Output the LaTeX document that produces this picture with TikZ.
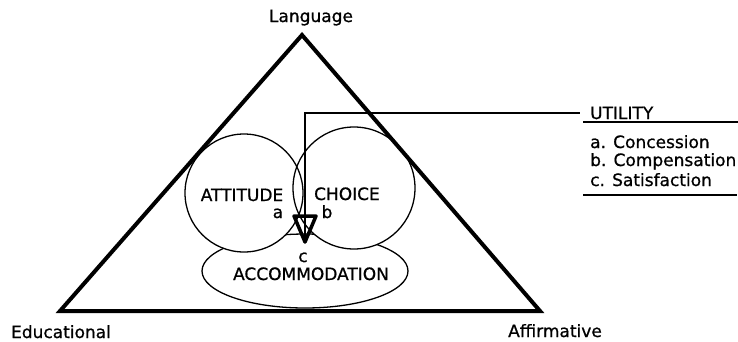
\documentclass[tikz,border=0pt]{standalone}
\usepackage{fontspec}
\setmainfont{DejaVu Sans}
\newfontfamily\lblfont[FakeBold=0.8]{DejaVu Sans}

\tikzset{
  lbl/.style={font=\lblfont\fontsize{17}{20}\selectfont, inner sep=0pt, anchor=base},
  item/.style={lbl, anchor=base west},
  thin line/.style={line width=1.3pt}
}

\begin{document}
\begin{tikzpicture}[x=1pt,y=-1pt]
  \useasboundingbox (0,0) rectangle (738,341);

  % Corners of the big triangle
  \coordinate (L) at (302,35);
  \coordinate (E) at (60,311);
  \coordinate (F) at (540,311);

  % Accommodation ellipse (behind the circles)
  \filldraw[thin line, fill=white] (305,271) ellipse (103 and 37);

  % Attitude and choice circles
  \fill[white] (244,193) circle (59);
  \fill[white] (354,188) circle (61);
  \draw[thin line] (244,193) circle (59);
  \draw[thin line] (354,188) circle (61);

  % Triangle
  \draw[line width=4pt] (E) -- (L) -- (F) -- cycle;

  % Corner labels
  \node[lbl] (lang) at (311,22) {Language};
  \node[lbl] (edu) at (61,338) {Educational};
  \node[lbl] (aff) at (555,337) {Affirmative};

  % Inner labels
  \node[lbl] (atttxt) at (242,201) {ATTITUDE};
  \node[lbl] (chotxt) at (347,200) {CHOICE};
  \node[lbl] (acctxt) at (311,280) {ACCOMMODATION};
  \node[lbl] (a) at (278,218) {a};
  \node[lbl] (b) at (327,218) {b};
  \node[lbl] (c) at (303,262) {c};

  % Utility list
  \node[item] (util) at (590,119) {UTILITY};
  \node[item] (conc) at (590,148) {a. Concession};
  \node[item] (comp) at (590,166) {b. Compensation};
  \node[item] (sat) at (590,186) {c. Satisfaction};
  \draw[line width=1.5pt] (583,122) -- (738,122);
  \draw[line width=1.5pt] (583,195) -- (737,195);

  % Marker and connector
  \coordinate (m1) at (294,216);
  \coordinate (m2) at (316,216);
  \coordinate (tip) at (305,242);
  \draw[line width=3.5pt, line join=round] (m1) -- (m2) -- (tip) -- cycle;
  \draw[thin line] (tip) |- ([xshift=-10pt]util.west);
\end{tikzpicture}
\end{document}
